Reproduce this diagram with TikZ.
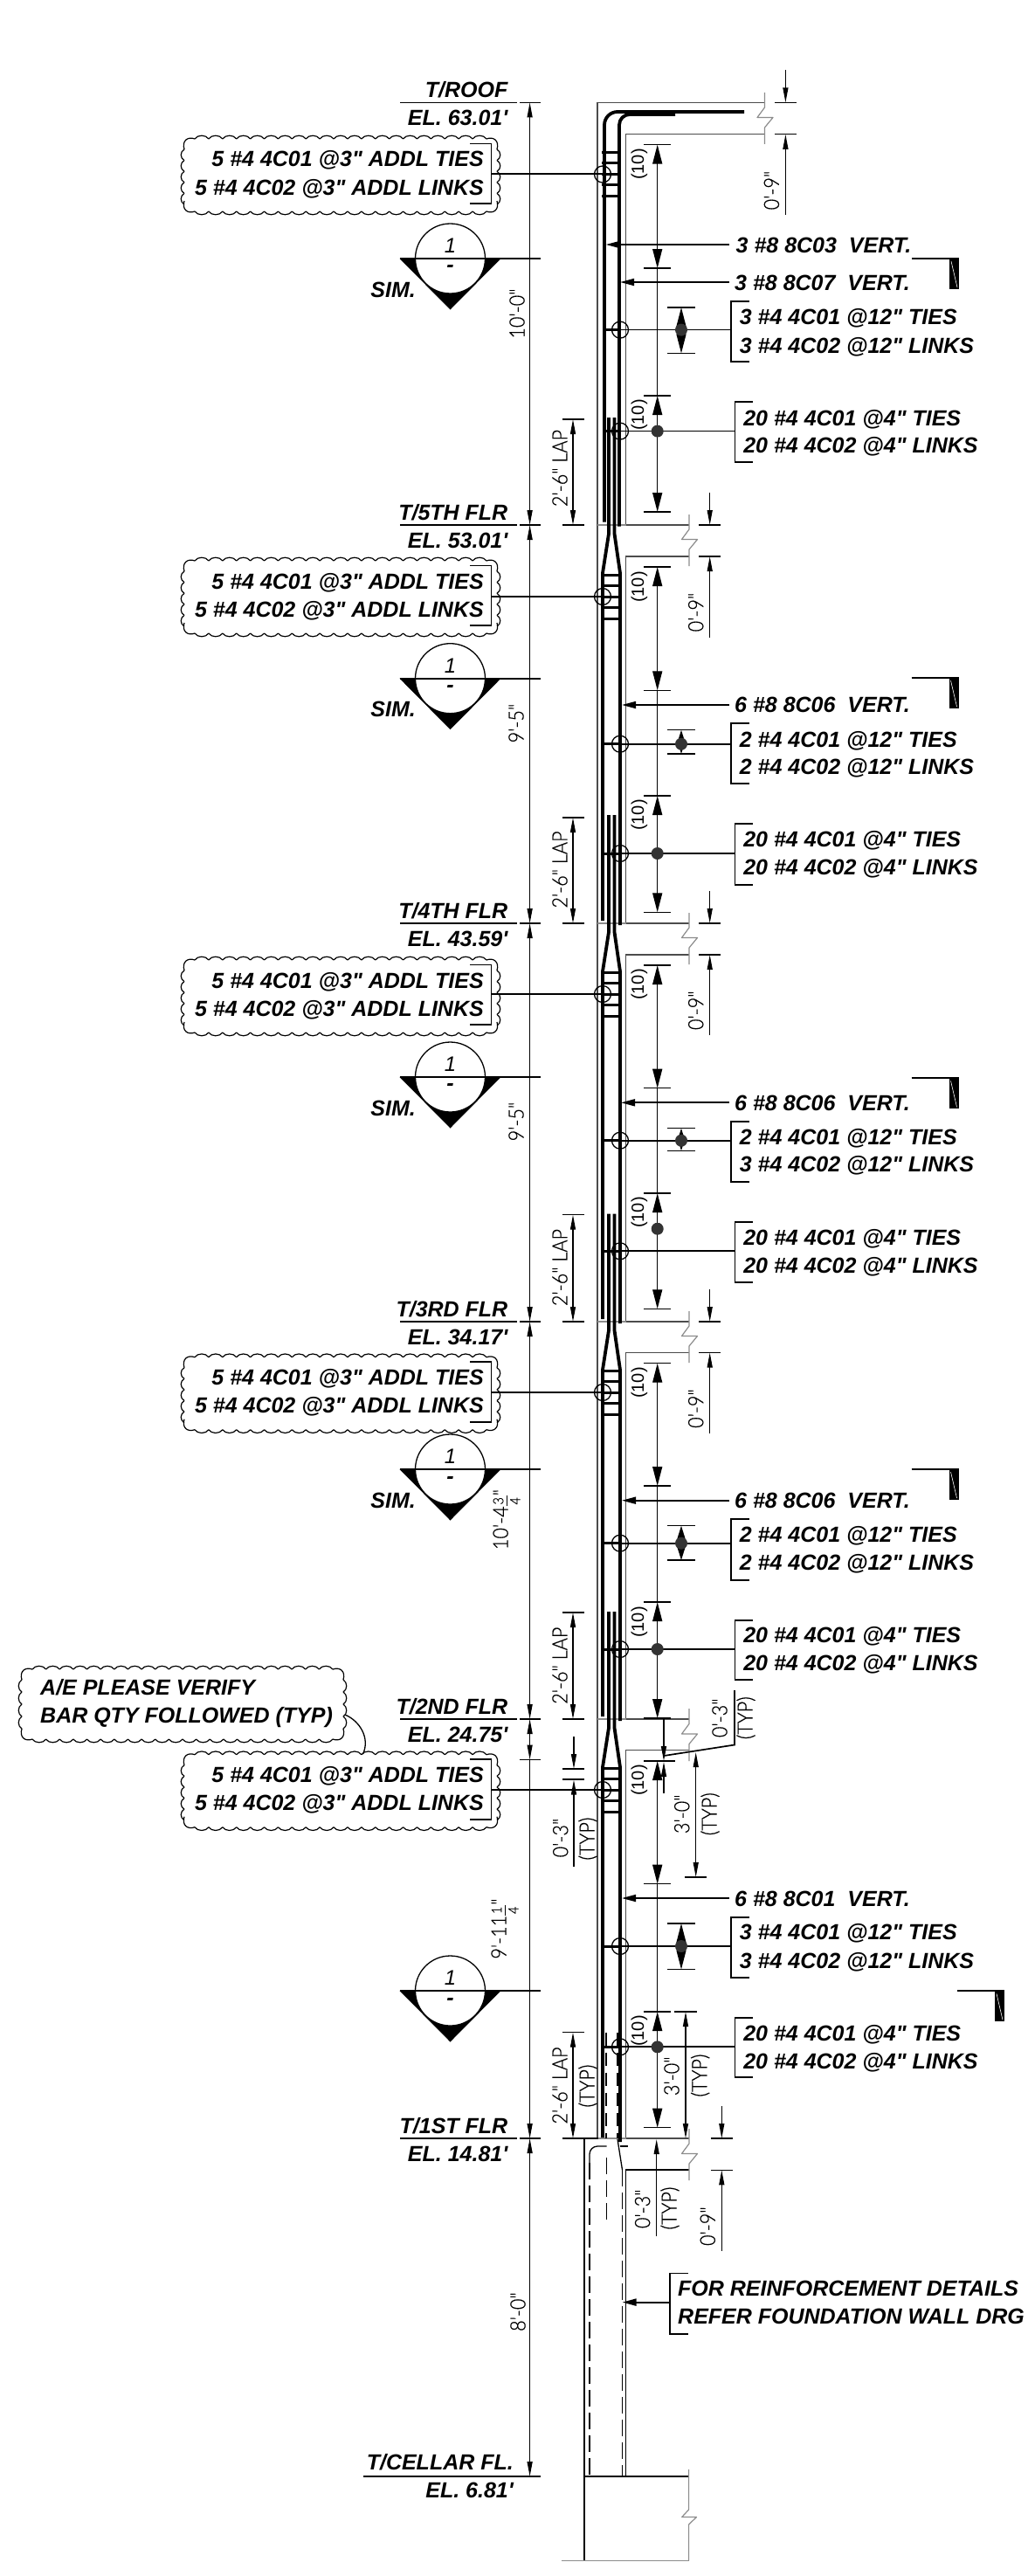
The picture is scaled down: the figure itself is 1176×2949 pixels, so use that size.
\documentclass[tikz,border=0pt]{standalone}
\usepackage{fontspec}
\setmainfont{Liberation Sans}
\newfontfamily\labfam{Liberation Sans}
\newfontfamily\thinfam[FakeStretch=0.9,FakeBold=0.5]{Lato Light}
\usetikzlibrary{arrows.meta}
\newcommand\labf{\labfam\fontsize{25}{30}\selectfont\bfseries\itshape}
\newcommand\dimf{\thinfam\fontsize{24}{28}\selectfont}
\newcommand\tenf{\labfam\fontsize{20}{24}\selectfont}
\newcount\myc
\newcommand\myl[4][base west]{\global\advance\myc by 1 \node[lab,anchor=#1] (t\the\myc) at (#2,#3) {#4};}
\newcommand\myd[3]{\global\advance\myc by 1 \node[dimt] (t\the\myc) at (#1,#2) {#3};}
\newcommand\myfr[2]{\raisebox{-.58em}{\fontsize{16}{16}\selectfont\shortstack[c]{#1\\[0.5pt]\rule{.75em}{.9pt}\\[0.5pt]#2}}}
\tikzset{
  lab/.style={font=\labf,inner sep=0pt,text=black},
  dimt/.style={font=\dimf,inner sep=0pt,rotate=90,anchor=center},
  tent/.style={font=\tenf,inner sep=0pt,rotate=90,anchor=center},
  hair/.style={line width=1.3pt,black},
  lead/.style={line width=1.7pt,black},
  wall/.style={line width=1.4pt,black!70},
  greyl/.style={line width=1.2pt,black!45},
  bar/.style={line width=3.8pt,black,line join=round},
  tie/.style={line width=3pt,black},
  cloudl/.style={line width=1.2pt,black},
  ad/.tip={Triangle[length=17pt,width=6pt]},
  al/.tip={Triangle[length=22pt,width=11pt]},
  am/.tip={Triangle[length=16pt,width=8pt]},
  as/.tip={Triangle[length=15pt,width=9pt]},
}
% scalloped outline: x1,y1,x2,y2
\newcommand\myscal[4]{%
  \pgfmathtruncatemacro\nh{round((#3-#1-24)/15.6)}
  \pgfmathtruncatemacro\nv{round((#4-#2-24)/14)}
  \pgfmathsetmacro\wh{(#3-#1-24)/\nh}
  \pgfmathsetmacro\wv{(#4-#2-24)/\nv}
  \foreach \i in {1,...,\nh}{
    \pgfmathsetmacro\xa{#1+12+(\i-1)*\wh}
    \pgfmathsetmacro\xb{\xa+\wh}
    \draw[cloudl] (\xa,#2) .. controls (\xa+.2*\wh,#2-5) and (\xb-.2*\wh,#2-5) .. (\xb,#2);
    \draw[cloudl] (\xa,#4) .. controls (\xa+.2*\wh,#4+5) and (\xb-.2*\wh,#4+5) .. (\xb,#4);
  }
  \foreach \i in {1,...,\nv}{
    \pgfmathsetmacro\ya{#2+12+(\i-1)*\wv}
    \pgfmathsetmacro\yb{\ya+\wv}
    \draw[cloudl] (#1,\ya) .. controls (#1-5,\ya+.2*\wv) and (#1-5,\yb-.2*\wv) .. (#1,\yb);
    \draw[cloudl] (#3,\ya) .. controls (#3+5,\ya+.2*\wv) and (#3+5,\yb-.2*\wv) .. (#3,\yb);
  }
  \draw[cloudl] (#1,#2+12) .. controls (#1-3,#2+2) and (#1+4,#2-3) .. (#1+12,#2);
  \draw[cloudl] (#3,#2+12) .. controls (#3+3,#2+2) and (#3-4,#2-3) .. (#3-12,#2);
  \draw[cloudl] (#1,#4-12) .. controls (#1-3,#4-2) and (#1+4,#4+3) .. (#1+12,#4);
  \draw[cloudl] (#3,#4-12) .. controls (#3+3,#4-2) and (#3-4,#4+3) .. (#3-12,#4);}
% level mark: y, top text, bottom text
\newcommand\mylvl[3]{%
  \draw[lead] (458,#1)--(592,#1) (595,#1)--(619,#1);
  \myl[base east]{581.5}{#1-6}{#2}
  \myl[base east]{581.5}{#1+26}{#3}}
% vertical dimension with long arrows
\newcommand\mybig[4]{%
  \draw[hair,al-al] (752.7,#1)--(752.7,#2);
  \draw[hair] (752.7,#2)--(752.7,#3);
  \draw[hair,al-al] (752.7,#3)--(752.7,#4);
  \foreach \q in {#1,#2,#3,#4}{\draw[hair] (737,\q)--(768,\q);}}
\newcommand\myten[1]{\global\advance\myc by 1 \node[tent] (t\the\myc) at (732,#1) {(10)};}
% ties group with circle
\newcommand\myties[1]{%
  \foreach \q in {-25,-12.5,0,12.5,25}{\draw[tie] (689,#1+\q)--(711,#1+\q);}
  \draw[hair] (690,#1) circle[radius=9.5pt];}
% cloud with two lines of text: top, leader y
\newcommand\mycloud[2]{%
  \myscal{211}{#1+2}{569}{#1+85}
  \myl[base east]{554}{#1+34}{5 \#4 4C01 @3" ADDL TIES}
  \myl[base east]{554}{#1+66}{5 \#4 4C02 @3" ADDL LINKS}
  \draw[lead] (538,#1+7.6)--(562.5,#1+7.6)--(562.5,#1+76)--(538,#1+76);
  \draw[lead] (562.5,#2)--(690,#2);}
% section symbol
\newcommand\mysec[1]{%
  \fill[black] (457.5,#1)--(573.5,#1)--(515.5,#1+58.5)--cycle;
  \draw[hair,fill=white] (515.5,#1) circle[radius=40pt];
  \draw[lead] (457.5,#1)--(618.7,#1);
  \global\advance\myc by 1
  \node[font=\labfam\fontsize{24}{28}\selectfont\itshape,inner sep=0pt,anchor=base] (t\the\myc) at (515.5,#1-6.5) {1};
  \global\advance\myc by 1
  \node[font=\labf,inner sep=0pt,anchor=center] (t\the\myc) at (515.5,#1+12) {-};}
\newcommand\mysim[1]{\myl[base east]{476}{#1+44}{SIM.}}
% section arrowhead mark at right
\newcommand\mymark[2]{%
  \draw[line width=2pt] (#1,#2)--(#1+43,#2);
  \fill[black] (#1+43,#2-1)rectangle(#1+54,#2+35);
  \draw[white,line width=.6pt] (#1+45,#2+3)--(#1+52,#2+33);}
% break line : x, y1, y2
\newcommand\mybrk[3]{%
  \pgfmathsetmacro\mm{(#2+#3)/2}
  \draw[greyl,line join=round] (#1,#2)--(#1,\mm-12.5)--(#1-8.5,\mm-1)--(#1+9.5,\mm-1)--(#1,\mm+10.5)--(#1,#3);}
% slab 0'-9" dimension: x, ytop, ybot, yend, ytext
\newcommand\mynine[5]{%
  \draw[hair,-ad] (#1,#2-37)--(#1,#2);
  \draw[hair,-ad] (#1,#4)--(#1,#3);
  \draw[hair] (#1-12.5,#2)--(#1+12.5,#2) (#1-12.5,#3)--(#1+12.5,#3);
  \myd{#1-16}{#5}{0'-9"}}
% bracket: x, top, bottom, leader, base1, base2, text1, text2
\newcommand\mybr[8]{%
  \draw[lead] (#1+20.7,#2)--(#1,#2)--(#1,#3)--(#1+20.7,#3);
  \draw[lead] (#1,#4)--(710,#4);
  \draw[tie] (690,#4)--(710,#4);
  \draw[hair] (710,#4) circle[radius=9.5pt];
  \myl{#1+9.7}{#5}{#7}
  \myl{#1+9.7}{#6}{#8}}
% small dim : tip, top, bottom, y
\newcommand\mysm[4][as]{%
  \draw[hair,#1-#1] (780,#2)--(780,#3);
  \fill[black!80] (780,#4) circle[radius=7pt];
  \draw[hair] (764,#2)--(795.7,#2) (764,#3)--(795.7,#3);}
\newcommand\mydot[1]{\fill[black!80] (752.7,#1) circle[radius=7pt];}
% vertical bars in a storey
\newcommand\mybars[3]{%
  \draw[bar] (697,#1)--(697,#2+10)--(690,#2+55)--(690,#3-3);
  \draw[bar] (703.5,#1)--(703.5,#2+10)--(710,#2+55)--(710,#3+2);}
% lap dim: top, bottom, ytext
\newcommand\mylap[3]{%
  \draw[hair,ad-ad] (656,#1)--(656,#2);
  \draw[hair] (643.5,#1)--(668.6,#1) (643.5,#2)--(668.6,#2);
  \myd{641}{#3}{2'-6" LAP}}
% vertical leader with text
\newcommand\myvert[5]{%
  \draw[lead,-am] (835,#2)--(#1,#2);
  \myl{#5}{#3}{#4}}
\begin{document}
\begin{tikzpicture}[x=1pt,y=-1pt]
\useasboundingbox (0,0) rectangle (1176,2949);
\fill[white] (0,0) rectangle (1176,2949);
% walls
\draw[wall] (875.5,117.4)--(684,117.4)--(684,2448);
\draw[wall] (875.5,153.8)--(716.5,153.8)--(716.5,601)--(789,601);
\draw[wall] (789,637)--(716.5,637)--(716.5,1057)--(789,1057);
\draw[wall] (789,1093)--(716.5,1093)--(716.5,1513)--(789,1513);
\draw[wall] (789,1548.5)--(716.5,1548.5)--(716.5,1968)--(789,1968);
\draw[wall] (789,2003.3)--(716.5,2003.3)--(716.5,2448)--(789,2448);
\draw[lead] (789,2484.3)--(716.5,2484.3)--(716.5,2835);
\foreach \q in {601,1057,1513,1968,2448}{\draw[greyl] (684,\q)--(716.5,\q);}
\draw[lead] (644,2448)--(685,2448);
\draw[lead] (668.8,2448)--(668.8,2931.5);
\draw[lead] (668.8,2835)--(788.6,2835);
\draw[greyl] (642.6,2931.5)--(788.6,2931.5);
\mybrk{875.5}{106}{165}
\mybrk{789}{589}{648}
\mybrk{789}{1045}{1104}
\mybrk{789}{1501}{1560}
\mybrk{789}{1956}{2016}
\mybrk{789}{2437}{2496}
\draw[greyl,line join=round] (788.6,2827)--(788.6,2873)--(780.7,2881.5)--(797.5,2881.5)--(788.6,2890)--(788.6,2931.5);
% bars
\draw[bar,rounded corners=15pt] (852,128)--(692,128)--(692,597.7);
\draw[bar,rounded corners=12pt] (773,131)--(709,131)--(709,602.7);
\mybars{478}{601}{1057}
\mybars{933}{1057}{1513}
\mybars{1389.5}{1513}{1968}
\mybars{1845}{1968}{2450}
\draw[line width=2.2pt,dash pattern=on 15pt off 8pt] (694,2327)--(694,2448);
\draw[line width=2.8pt,dash pattern=on 15pt off 8pt] (707.3,2327)--(707.3,2448);
\draw[hair,rounded corners=9pt] (694.5,2457)--(675,2457)--(675,2476);
\draw[hair,dash pattern=on 19pt off 7pt] (675,2476)--(675,2835);
\draw[hair,dash pattern=on 19pt off 7pt] (694.5,2470)--(694.5,2545);
\draw[hair] (707,2449)--(712.5,2484);
\draw[hair,dash pattern=on 19pt off 7pt] (712.3,2484)--(712.3,2835);
\draw[hair] (710,2457)--(719,2457);
% main dimension
\draw[hair,ad-ad] (606.6,117.4)--(606.6,601);
\draw[hair,ad-ad] (606.6,601)--(606.6,1057);
\draw[hair,ad-ad] (606.6,1057)--(606.6,1513);
\draw[hair,ad-ad] (606.6,1513)--(606.6,1968);
\draw[hair,ad-ad] (606.6,1968)--(606.6,2014.5);
\draw[hair,-ad] (606.6,2014.5)--(606.6,2448);
\draw[hair,ad-ad] (606.6,2448)--(606.6,2835);
\draw[hair] (594.6,2014.5)--(619,2014.5);
\myd{592}{359}{10'-0"}
\myd{591}{828}{9'-5"}
\myd{591}{1284}{9'-5"}
\myd{580}{1739.5}{10'-4\myfr{3}{4}"}
\myd{578}{2208}{9'-11\myfr{1}{4}"}
\myd{593}{2646.5}{8'-0"}
% levels
\mylvl{117.4}{T/ROOF}{EL. 63.01'}
\mylvl{601}{T/5TH FLR}{EL. 53.01'}
\mylvl{1057}{T/4TH FLR}{EL. 43.59'}
\mylvl{1513}{T/3RD FLR}{EL. 34.17'}
\mylvl{1968}{T/2ND FLR}{EL. 24.75'}
\mylvl{2448}{T/1ST FLR}{EL. 14.81'}
\draw[lead] (416,2835)--(619.3,2835);
\myl[base east]{588}{2827}{T/CELLAR FL.}
\myl[base east]{588}{2859.4}{EL. 6.81'}
% clouds and leaders
\mycloud{157}{199}
\mycloud{640}{682.7}
\mycloud{1097}{1138}
\mycloud{1551.7}{1594}
\mycloud{2006.7}{2049}
\myties{199.5}
\myties{683}
\myties{1138}
\myties{1594}
\myties{2049}
% section symbols
\mysec{296}\mysim{296}
\mysec{776.7}\mysim{776.7}
\mysec{1233}\mysim{1233}
\mysec{1682}\mysim{1682}
\mysec{2279}
% lap dims
\mylap{480}{601}{536}
\mylap{936}{1057}{995.5}
\mylap{1390.7}{1513}{1451}
\mylap{1846}{1968}{1906.7}
\mylap{2326.7}{2448}{2387.5}
% big dims
\mybig{165.6}{307}{453}{586}
\mybig{649}{790.3}{911}{1044.3}
\mybig{1105}{1245.7}{1366}{1498.3}
\mybig{1560.7}{1701}{1834}{1967}
\mybig{2016}{2156.7}{2303}{2435.7}
\myten{188}\myten{475}
\myten{672}\myten{933}
\myten{1127}\myten{1388}
\myten{1583}\myten{1857}
\myten{2038}\myten{2325}
% slab dims
\mynine{899.4}{117.4}{153.8}{246}{218}
\mynine{812.7}{601}{637}{730}{701}
\mynine{812.7}{1057}{1093}{1185}{1156.7}
\mynine{812.7}{1513}{1548.5}{1640.7}{1612.5}
\mynine{826.3}{2448}{2484.3}{2576.8}{2548.6}
% vert bars text
\myvert{693.7}{280}{289.6}{3 \#8 8C03~~VERT.}{842.5}
\myvert{710}{323}{332}{3 \#8 8C07~~VERT.}{841}
\myvert{712}{807}{815.7}{6 \#8 8C06~~VERT.}{841}
\myvert{711}{1262.3}{1271}{6 \#8 8C06~~VERT.}{841}
\myvert{712}{1717.7}{1726.5}{6 \#8 8C06~~VERT.}{841}
\myvert{712}{2173}{2182}{6 \#8 8C01~~VERT.}{841}
\mymark{1044}{296}
\mymark{1043.5}{776}
\mymark{1043.5}{1234.3}
\mymark{1043.5}{1682}
\mymark{1096}{2279.4}
% brackets
\mybr{837}{345}{414}{377.6}{371}{404}{3 \#4 4C01 @12" TIES}{3 \#4 4C02 @12" LINKS}
\mysm[al]{352}{404.4}{377.6}
\mybr{841.4}{460}{529}{493.6}{487}{518.5}{20 \#4 4C01 @4" TIES}{20 \#4 4C02 @4" LINKS}
\mydot{493.6}
\mybr{837}{828.3}{897.3}{851.7}{855}{886.7}{2 \#4 4C01 @12" TIES}{2 \#4 4C02 @12" LINKS}
\mysm{835.7}{863}{851.7}
\mybr{841.4}{943.3}{1012.7}{977}{969.3}{1001.7}{20 \#4 4C01 @4" TIES}{20 \#4 4C02 @4" LINKS}
\mydot{977}
\mybr{837}{1284}{1353}{1305.7}{1310}{1341.7}{2 \#4 4C01 @12" TIES}{3 \#4 4C02 @12" LINKS}
\mysm{1291.7}{1317.3}{1305.7}
\mybr{841.4}{1399.3}{1467.7}{1432.3}{1425}{1457.3}{20 \#4 4C01 @4" TIES}{20 \#4 4C02 @4" LINKS}
\mydot{1406.7}
\mybr{837}{1739.3}{1808.7}{1766.7}{1765.7}{1797.3}{2 \#4 4C01 @12" TIES}{2 \#4 4C02 @12" LINKS}
\mysm[as]{1746.7}{1786}{1766.7}
\mybr{841.4}{1854.7}{1923.3}{1888}{1880}{1912.3}{20 \#4 4C01 @4" TIES}{20 \#4 4C02 @4" LINKS}
\mydot{1888}
\mybr{837}{2195}{2264}{2228}{2220.5}{2253}{3 \#4 4C01 @12" TIES}{3 \#4 4C02 @12" LINKS}
\mysm[al]{2202}{2254.5}{2228}
\mybr{841.4}{2310}{2378.3}{2343.3}{2336.8}{2368.6}{20 \#4 4C01 @4" TIES}{20 \#4 4C02 @4" LINKS}
\mydot{2343.3}
% 0'-3" (TYP) at 2nd floor, right
\draw[hair,-ad] (760,1968)--(760,2016);
\draw[hair,-ad] (760,2052.7)--(760,2017);
\draw[lead] (737,2016)--(772.7,2016);
\draw[lead] (760,2010)--(841,1997.5)--(841,1935);
\myd{824}{1966.7}{0'-3"}
\myd{854}{1966.7}{(TYP)}
% 3'-0" (TYP) upper
\draw[hair,ad-ad] (796.7,2006)--(796.7,2149);
\draw[lead] (784,2149)--(809,2149);
\myd{780.7}{2076.7}{3'-0"}
\myd{813}{2076.7}{(TYP)}
% 0'-3" (TYP) left
\draw[hair,-ad] (657,1988)--(657,2025);
\draw[hair,-ad] (657,2136.7)--(657,2037.5);
\draw[lead] (644.3,2025)--(669.3,2025) (644.3,2037.3)--(669.3,2037.3);
\myd{641.7}{2104}{0'-3"}
\myd{673}{2105}{(TYP)}
% 3'-0" (TYP) lower
\draw[hair,ad-ad] (785,2303)--(785,2448);
\draw[hair] (772,2303)--(797.6,2303);
\myd{769}{2376.7}{3'-0"}
\myd{801.7}{2376}{(TYP)}
\myd{673}{2388}{(TYP)}
% 0'-3" (TYP) foundation
\draw[hair,-ad] (751.7,2560)--(751.7,2449);
\myd{735.6}{2528.7}{0'-3"}
\myd{767}{2528}{(TYP)}
% A/E note
\myscal{25}{1911}{393}{1991}
\myl{46}{1940.7}{A/E PLEASE VERIFY}
\myl{46}{1972.7}{BAR QTY FOLLOWED (TYP)}
\draw[hair] (395,1963) .. controls (412,1970) and (424,1990) .. (415.5,2008);
% foundation note
\draw[lead] (787.6,2602.4)--(767.3,2602.4)--(767.3,2671.7)--(787.6,2671.7);
\draw[line width=2pt,-am] (767.3,2635.6)--(712.5,2635.6);
\myl{776}{2628.6}{FOR REINFORCEMENT DETAILS}
\myl{776}{2660.9}{REFER FOUNDATION WALL DRG}
\end{tikzpicture}
\end{document}
